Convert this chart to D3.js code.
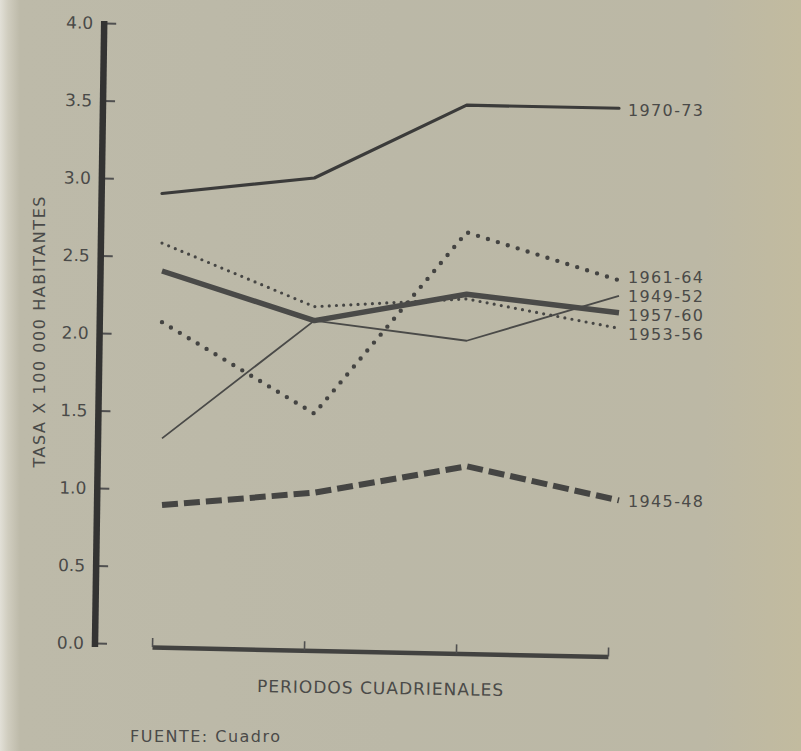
<!DOCTYPE html>
<html>
<head>
<meta charset="utf-8">
<script src="https://cdn.jsdelivr.net/npm/d3@7"></script>
<style>
  html, body { margin: 0; padding: 0; background: #bdbaa9; }
  svg { display: block; }
</style>
</head>
<body>
<svg id="chart" width="801" height="751"></svg>
<script>
// ---- data ----
const categories = ["Año 1", "Año 2", "Año 3", "Año 4"];
const seriesNames = ["1970-73", "1961-64", "1953-56", "1957-60", "1949-52", "1945-48"];
const s1970_73 = [2.90, 3.00, 3.47, 3.45];
const s1961_64 = [2.07, 1.48, 2.65, 2.34];
const s1953_56 = [2.58, 2.17, 2.22, 2.03];
const s1957_60 = [2.40, 2.08, 2.25, 2.13];
const s1949_52 = [1.32, 2.08, 1.95, 2.24];
const s1945_48 = [0.89, 0.97, 1.14, 0.92];
const yTicks = [0, 0.5, 1.0, 1.5, 2.0, 2.5, 3.0, 3.5, 4.0];
const yTitle = "TASA X 100 000 HABITANTES";
const xTitle = "PERIODOS CUADRIENALES";
const sourceNote = "FUENTE: Cuadro";

const seriesValues = [s1970_73, s1961_64, s1953_56, s1957_60, s1949_52, s1945_48];

// ---- styles (layout, not data) ----
const styles = {
  "1970-73": { w: 3.2, dash: null, cap: "round", color: "#3b3b3a" },
  "1961-64": { w: 4.4, dash: "0 10.4", cap: "round", color: "#444442" },
  "1953-56": { w: 3.2, dash: "0 7.2", cap: "round", color: "#464644" },
  "1957-60": { w: 5.5, dash: null, cap: "butt", color: "#4a4a48" },
  "1949-52": { w: 1.8, dash: null, cap: "butt", color: "#4a4a48" },
  "1945-48": { w: 6, dash: "16 6", cap: "butt", color: "#454543" }
};
// label vertical nudges (px) so the stacked labels do not collide
const labelNudge = { "1970-73": 2, "1961-64": -3, "1953-56": 5.5, "1957-60": 2, "1949-52": 0, "1945-48": 1 };
const drawOrder = ["1949-52", "1953-56", "1961-64", "1957-60", "1970-73", "1945-48"];

const svg = d3.select("#chart");
const W = 801, H = 751;

// background
const defs = svg.append("defs");
const grad = defs.append("linearGradient").attr("id", "bg").attr("x1", 0).attr("x2", 1).attr("y1", 0).attr("y2", 0);
[["0%", "#e2e0d7"], ["1%", "#d0cdbf"], ["2.5%", "#bdbaa9"], ["50%", "#bbb8a7"], ["88%", "#bcb8a5"], ["100%", "#c2bb9f"]]
  .forEach(([o, c]) => grad.append("stop").attr("offset", o).attr("stop-color", c));
svg.append("rect").attr("width", W).attr("height", H).attr("fill", "url(#bg)");

// scales
const y = d3.scaleLinear().domain([0, 4]).range([643, 23]);
const xLine = d3.scalePoint().domain(categories).range([162, 619]);
const xAxisScale = d3.scalePoint().domain(categories).range([152, 608]);

const textColor = "#4a4a48";
const font = "'DejaVu Sans', 'Liberation Sans', sans-serif";

// y axis
const yAxis = d3.axisLeft(y)
  .tickValues(yTicks)
  .tickFormat(d3.format(".1f"))
  .tickSizeInner(-12)
  .tickSizeOuter(0)
  .tickPadding(11);
const gy = svg.append("g")
  .attr("transform", "translate(95,0) rotate(0.85,0,643)")
  .call(yAxis);
gy.select(".domain").remove();
gy.append("line")
  .attr("x1", 0).attr("x2", 0)
  .attr("y1", y(0) + 4).attr("y2", y(4) - 2)
  .attr("stroke", "#333332").attr("stroke-width", 6.5);
gy.selectAll(".tick line").attr("stroke", "#505050").attr("stroke-width", 2);
gy.selectAll(".tick text")
  .attr("fill", textColor)
  .style("font-family", font)
  .style("font-size", "17px");

// x axis (bottom bar with small upward ticks)
const xAxis = d3.axisBottom(xAxisScale).tickSizeInner(-9).tickSizeOuter(0).tickFormat("");
const gx = svg.append("g")
  .attr("transform", "translate(0,647) rotate(1.2,152,0)")
  .call(xAxis);
gx.select(".domain").attr("stroke", "#424240").attr("stroke-width", 4.5);
gx.selectAll(".tick line").attr("stroke", "#505050").attr("stroke-width", 1.6);

// lines
const line = d3.line()
  .x((d, i) => xLine(categories[i]))
  .y(d => y(d));

drawOrder.forEach(name => {
  const idx = seriesNames.indexOf(name);
  const st = styles[name];
  svg.append("path")
    .datum(seriesValues[idx])
    .attr("d", line)
    .attr("fill", "none")
    .attr("stroke", st.color)
    .attr("stroke-width", st.w)
    .attr("stroke-linecap", st.cap)
    .attr("stroke-linejoin", "round")
    .attr("stroke-dasharray", st.dash);
});

// series labels at line ends
seriesNames.forEach((name, idx) => {
  const vals = seriesValues[idx];
  svg.append("text")
    .attr("x", xLine(categories[categories.length - 1]) + 9)
    .attr("y", y(vals[vals.length - 1]) + labelNudge[name])
    .attr("dy", "0.36em")
    .attr("fill", textColor)
    .attr("textLength", 75)
    .attr("lengthAdjust", "spacing")
    .style("font-family", font)
    .style("font-size", "16px")
    .text(name);
});

// y title
svg.append("text")
  .attr("transform", "translate(45,332) rotate(-90)")
  .attr("text-anchor", "middle")
  .attr("fill", textColor)
  .attr("textLength", 271)
  .attr("lengthAdjust", "spacing")
  .style("font-family", font)
  .style("font-size", "16px")
  .text(yTitle);

// x title
svg.append("text")
  .attr("transform", "translate(380,694) rotate(0.9)")
  .attr("text-anchor", "middle")
  .attr("fill", textColor)
  .attr("textLength", 246)
  .attr("lengthAdjust", "spacing")
  .style("font-family", font)
  .style("font-size", "17px")
  .text(xTitle);

// source note
svg.append("text")
  .attr("x", 130)
  .attr("y", 742)
  .attr("fill", textColor)
  .attr("textLength", 150)
  .attr("lengthAdjust", "spacing")
  .style("font-family", font)
  .style("font-size", "16px")
  .text(sourceNote);
</script>
</body>
</html>
